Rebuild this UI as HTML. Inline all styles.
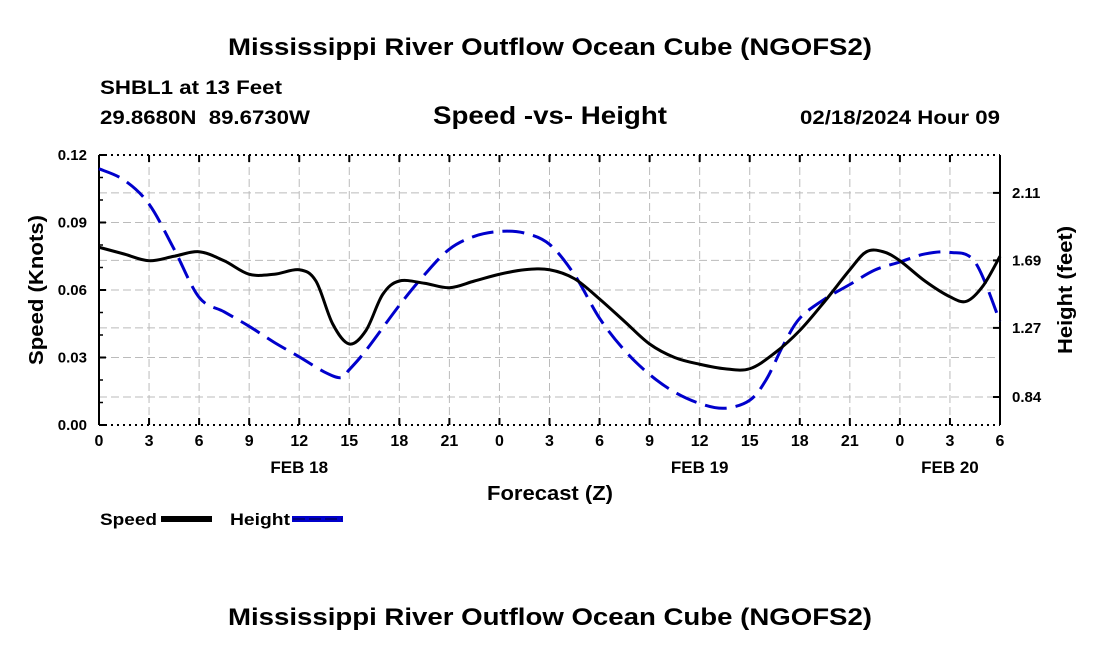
<!DOCTYPE html>
<html><head><meta charset="utf-8"><style>
body{margin:0;background:#fff;width:1100px;height:650px;overflow:hidden;font-family:"Liberation Sans",sans-serif}
svg text{font-family:"Liberation Sans",sans-serif;font-weight:bold;fill:#000}
</style></head><body>
<svg id="c" width="1100" height="650">
<text x="550" y="55" font-size="24" textLength="644" lengthAdjust="spacingAndGlyphs" text-anchor="middle">Mississippi River Outflow Ocean Cube (NGOFS2)</text>
<text x="100" y="94" font-size="19" textLength="182" lengthAdjust="spacingAndGlyphs">SHBL1 at 13 Feet</text>
<text x="100" y="124" font-size="19" textLength="210" lengthAdjust="spacingAndGlyphs" xml:space="preserve">29.8680N  89.6730W</text>
<text x="550" y="124" font-size="25" textLength="234" lengthAdjust="spacingAndGlyphs" text-anchor="middle">Speed -vs- Height</text>
<text x="1000" y="124" font-size="19" textLength="200" lengthAdjust="spacingAndGlyphs" text-anchor="end">02/18/2024 Hour 09</text>
<text x="550" y="500" font-size="20" textLength="126" lengthAdjust="spacingAndGlyphs" text-anchor="middle">Forecast (Z)</text>
<text transform="translate(43,290) rotate(-90)" font-size="20" textLength="150" lengthAdjust="spacingAndGlyphs" text-anchor="middle">Speed (Knots)</text>
<text transform="translate(1072,290) rotate(-90)" font-size="20" textLength="128" lengthAdjust="spacingAndGlyphs" text-anchor="middle">Height (feet)</text>
<g>
<text x="100" y="525" font-size="17" textLength="57" lengthAdjust="spacingAndGlyphs">Speed</text>
<rect x="161" y="516" width="51" height="6" fill="#000"/>
<text x="230" y="525" font-size="17" textLength="60" lengthAdjust="spacingAndGlyphs">Height</text>
<rect x="292" y="516" width="51" height="6" fill="#0000cc"/>
<line x1="293" y1="519" x2="342" y2="519" stroke="#000066" stroke-width="1.5" stroke-dasharray="12 4"/>
</g>
<text x="550" y="625" font-size="24" textLength="644" lengthAdjust="spacingAndGlyphs" text-anchor="middle">Mississippi River Outflow Ocean Cube (NGOFS2)</text>
<g id="plot"></g>
</svg>
<script>
const hourTicks=[0,3,6,9,12,15,18,21,0,3,6,9,12,15,18,21,0,3,6];
const dayLabels=[["FEB 18",12],["FEB 19",36],["FEB 20",51]];
const speedTicks=[0,0.03,0.06,0.09,0.12];
const heightTicks=[0.84,1.27,1.69,2.11];
const speedHours=[0,1.5,3,4.5,6,7.5,9,10.5,12,13,14,15,16,17,18,19.5,21,22.5,24,25.5,27,28.5,30,31.5,33,34.5,36,37.5,39,40.5,42,43.5,45,46,47,48,49.5,51,52,53,54];
const speedVals=[0.079,0.076,0.073,0.075,0.077,0.073,0.067,0.067,0.069,0.064,0.045,0.036,0.042,0.058,0.064,0.063,0.061,0.064,0.067,0.069,0.069,0.065,0.056,0.046,0.036,0.030,0.027,0.025,0.025,0.032,0.042,0.055,0.069,0.077,0.077,0.073,0.064,0.057,0.055,0.062,0.075];
const heightHours=[0,1.5,3,4.5,6,7.5,9,10.5,12,13.5,14.5,15,16,18,19.5,21,22.5,24,25.5,27,28.5,30,31.5,33,34.5,36,37.5,39,40,41,42,43.5,45,46.5,48,49.5,51,52.5,54];
const heightVals=[2.26,2.19,2.04,1.76,1.46,1.37,1.28,1.18,1.09,0.996,0.96,1.01,1.13,1.41,1.60,1.76,1.84,1.87,1.86,1.79,1.60,1.33,1.13,0.98,0.87,0.80,0.77,0.82,0.95,1.16,1.33,1.45,1.54,1.63,1.68,1.73,1.74,1.68,1.31];
const L=99,R=1000,T=155,B=425;
const xs=h=>L+h/54*(R-L);
const ys=v=>B-v/0.12*(B-T);
const yh=v=>397-(v-0.84)/0.42*67.5;
const NS="http://www.w3.org/2000/svg";
const g=document.getElementById('plot');
function el(t,a){const e=document.createElementNS(NS,t);for(const k in a)e.setAttribute(k,a[k]);g.appendChild(e);return e;}
hourTicks.forEach((t,i)=>{if(i>0&&i<hourTicks.length-1){const l=el('line',{x1:xs(i*3),x2:xs(i*3),y1:T,y2:B,stroke:'#bbb','stroke-dasharray':'8 4'});

}});
speedTicks.forEach(v=>{if(v>0&&v<0.12){const l=el('line',{x1:L,x2:R,y1:ys(v),y2:ys(v),stroke:'#bbb','stroke-dasharray':'8 4'});

}});
heightTicks.forEach(v=>{const l=el('line',{x1:L,x2:R,y1:yh(v),y2:yh(v),stroke:'#bbb','stroke-dasharray':'8 4'});

});
el('line',{x1:L,x2:L,y1:T,y2:B,stroke:'#000','stroke-width':2});
el('line',{x1:R,x2:R,y1:T,y2:B,stroke:'#000','stroke-width':2});
el('line',{x1:L,x2:R,y1:T,y2:T,stroke:'#000','stroke-width':2,'stroke-dasharray':'2 4'});
el('line',{x1:L,x2:R,y1:B,y2:B,stroke:'#000','stroke-width':2,'stroke-dasharray':'2 4'});
hourTicks.forEach((t,i)=>{const x=xs(i*3);
el('line',{x1:x,x2:x,y1:B,y2:B-7,stroke:'#000','stroke-width':2});
el('line',{x1:x,x2:x,y1:T,y2:T+7,stroke:'#000','stroke-width':2});
const tx=el('text',{x:x,y:B+21,'font-size':16,'text-anchor':'middle'});tx.textContent=t;

});
dayLabels.forEach(d=>{const tx=el('text',{x:xs(d[1]),y:B+48,'font-size':17,'text-anchor':'middle'});tx.textContent=d[0];

});
speedTicks.forEach(v=>{const y=ys(v);el('line',{x1:L,x2:L+7,y1:y,y2:y,stroke:'#000','stroke-width':2});
const tx=el('text',{x:L-12,y:y+5,'font-size':15,'text-anchor':'end'});tx.textContent=v.toFixed(2);

});
for(let v=0.01;v<0.12;v+=0.01){el('line',{x1:L,x2:L+4,y1:ys(v),y2:ys(v),stroke:'#000','stroke-width':1.5});}
heightTicks.forEach(v=>{const y=yh(v);el('line',{x1:R,x2:R-7,y1:y,y2:y,stroke:'#000','stroke-width':2});
const tx=el('text',{x:R+12,y:y+5,'font-size':15});tx.textContent=v.toFixed(2);

});
function path(xsArr,ysArr){const p=xsArr.map((h,i)=>[xs(h),ysArr[i]]);let d='M'+p[0][0]+','+p[0][1];
for(let i=0;i<p.length-1;i++){const p0=p[Math.max(0,i-1)],p1=p[i],p2=p[i+1],p3=p[Math.min(p.length-1,i+2)];
d+=' C'+(p1[0]+(p2[0]-p0[0])/6)+','+(p1[1]+(p2[1]-p0[1])/6)+' '+(p2[0]-(p3[0]-p1[0])/6)+','+(p2[1]-(p3[1]-p1[1])/6)+' '+p2[0]+','+p2[1];}return d;}
const hl=el('path',{d:path(heightHours,heightVals.map(yh)),fill:'none',stroke:'#0000cc','stroke-width':3,'stroke-dasharray':'22 9'});


const sl=el('path',{d:path(speedHours,speedVals.map(ys)),fill:'none',stroke:'#000','stroke-width':3});


</script>
</body></html>
